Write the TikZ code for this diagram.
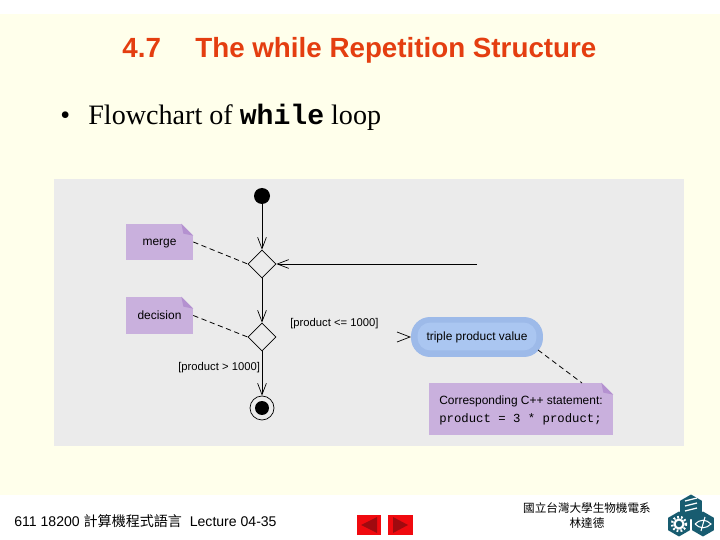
\documentclass[tikz,border=0pt]{standalone}
\usepackage{fontspec}
\setmainfont{Liberation Serif}
\setsansfont{Liberation Sans}
\setmonofont{Liberation Mono}
\newfontfamily\cjkfont{Noto Sans CJK TC}
\usepackage{tikz}
\usetikzlibrary{arrows.meta,calc,shapes.geometric}
\definecolor{slideyellow}{RGB}{255,255,235}
\definecolor{panelgray}{RGB}{235,235,235}
\definecolor{titlered}{RGB}{228,62,16}
\definecolor{notepurple}{RGB}{201,176,221}
\definecolor{foldpurple}{RGB}{180,145,208}
\definecolor{pillouter}{RGB}{157,186,233}
\definecolor{pillinner}{RGB}{170,198,241}
\definecolor{navred}{RGB}{240,10,15}
\definecolor{navdark}{RGB}{160,10,15}
\definecolor{logoteal}{RGB}{24,92,112}
\tikzset{
  px/.style={x=0.02cm,y=-0.02cm},
  flownote/.style={fill=notepurple,inner sep=0pt,text depth=0pt,font=\sffamily\fontsize{6.8}{9}\selectfont},
  branchnode/.style={diamond,draw,aspect=1,minimum size=0.56cm,inner sep=0pt,line width=0.4pt},
  flowline/.style={line width=0.45pt,-{Straight Barb[length=6.5pt,width=5pt,line width=0.4pt]}},
  noteline/.style={densely dashed,line width=0.45pt},
  guardlabel/.style={font=\sffamily\fontsize{6.4}{9}\selectfont,inner sep=0pt},
  navbutton/.style={fill=navred,minimum width=0.49cm,minimum height=0.4cm,inner sep=0pt},
  hexcell/.style={regular polygon,regular polygon sides=6,fill=logoteal,minimum size=0.5cm,inner sep=0pt},
  logomark/.style={white,line width=0.7pt}
}
\newcommand{\notefold}[1]{
  \fill[panelgray] ($(#1.north east)+(-12,0)$) -- (#1.north east) -- ($(#1.north east)+(0,12)$) -- cycle;
  \fill[foldpurple] ($(#1.north east)+(-12,0)$) -- ($(#1.north east)+(0,12)$) -- ($(#1.north east)+(-10,10)$) -- cycle;
}
\begin{document}
\begin{tikzpicture}[px]
\useasboundingbox (0,0) rectangle (720,540);
\fill[white] (0,0) rectangle (720,540);
\fill[slideyellow] (0,14) rectangle (720,495);
\fill[panelgray] (54,179) rectangle (684,446);

% heading and bullet
\node[anchor=base west,inner sep=0pt,text=titlered,font=\sffamily\bfseries\fontsize{15.8}{18}\selectfont] (secnum) at (122,58) {4.7};
\node[anchor=base west,inner sep=0pt,text=titlered,font=\sffamily\bfseries\fontsize{15.8}{18}\selectfont] (title) at (195,58) {The while Repetition Structure};
\node[anchor=base west,inner sep=0pt,font=\fontsize{16}{20}\selectfont] (bullet) at (60,125) {•};
\node[anchor=base west,inner sep=0pt,font=\fontsize{16}{20}\selectfont] (bullettext) at (88,125) {Flowchart of \texttt{\textbf{while}} loop};

% flow nodes
\node[circle,fill=black,minimum size=0.32cm,inner sep=0pt] (start) at (262,196) {};
\node[branchnode] (merge) at (262,264) {};
\node[branchnode] (decision) at (262,337) {};
\node[circle,fill=black,minimum size=0.28cm,inner sep=0pt] (stop) at (262,408) {};
\node[circle,draw,line width=0.4pt,minimum size=0.48cm,inner sep=0pt] (stopring) at (262,408) {};
\coordinate (loopend) at (477,264);

\draw[flowline] (start) -- (merge.north);
\draw[flowline] (loopend) -- (merge.east);
\draw[flowline] (merge.south) -- (decision.north);
\draw[flowline] (decision.south) -- (stopring.north);

% action
\node[fill=pillouter,rounded corners=0.38cm,minimum width=2.64cm,minimum height=0.8cm,inner sep=0pt] (action) at (477,337) {};
\node[fill=pillinner,rounded corners=0.26cm,minimum width=2.38cm,minimum height=0.56cm,inner sep=0pt,text depth=0pt,font=\sffamily\fontsize{6.8}{9}\selectfont] (actiontext) at (477,336.5) {triple product value};
\coordinate (tipup) at (397,332);
\coordinate (tipdown) at (397,342);
\coordinate (tipend) at (410,337);
\draw[line width=0.4pt] (tipup) -- (tipend) -- (tipdown);

% notes
\node[flownote,minimum width=1.34cm,minimum height=0.72cm] (mergenote) at (159.5,242) {merge};
\node[flownote,minimum width=1.34cm,minimum height=0.74cm] (decisionnote) at (159.5,315.5) {decision};
\node[flownote,minimum width=3.68cm,minimum height=1.04cm,align=left] (codenote) at (521,409) {Corresponding C++ statement:\\[1.2pt]\texttt{\fontsize{7}{9}\selectfont product = 3 * product;}};
\notefold{mergenote}
\notefold{decisionnote}
\notefold{codenote}
\coordinate (actionfoot) at (538,350);
\coordinate (codetop) at (582,383);
\draw[noteline] (mergenote.east) -- (merge.west);
\draw[noteline] (decisionnote.east) -- (decision.west);
\draw[noteline] (actionfoot) -- (codetop);

% guards
\node[guardlabel,anchor=west] (guardfalse) at (290,324) {[product <= 1000]};
\node[guardlabel,anchor=west] (guardtrue) at (178,368) {[product > 1000]};

% footer
\node[anchor=base west,inner sep=0pt,font=\sffamily\fontsize{8}{9}\selectfont] (footleft) at (14,526) {611 18200 {\cjkfont 計算機程式語言}\ \ Lecture 04-35};
\node[navbutton] (navback) at (369,525) {};
\node[navbutton] (navnext) at (400.5,525) {};
\fill[navdark] (361,525) -- (377,517) -- (377,533) -- cycle;
\fill[navdark] (408,525) -- (393,517) -- (393,533) -- cycle;
\node[align=center,inner sep=0pt,font=\cjkfont\fontsize{6.6}{8.6}\selectfont] (school) at (587,516) {國立台灣大學生物機電系\\林達德};

% logo
\node[hexcell,rotate=30] (hextop) at (691,507) {};
\node[hexcell,rotate=30] (hexleft) at (679,524) {};
\node[hexcell,rotate=30] (hexright) at (703,524) {};
\draw[logomark] (685,501) -- (697,498) (685,506) -- (697,503) (685,511) -- (697,508);
\draw[logomark,line width=1.2pt] (679,524) circle (4.5);
\draw[logomark,dashed,line width=1.4pt,dash pattern=on 1pt off 1.2pt] (679,524) circle (7);
\draw[logomark,line width=0.6pt] (695,524) .. controls (700,519) and (706,519) .. (711,524) .. controls (706,529) and (700,529) .. (695,524);
\draw[logomark,line width=0.6pt] (705,517) -- (701,531);
\end{tikzpicture}
\end{document}
